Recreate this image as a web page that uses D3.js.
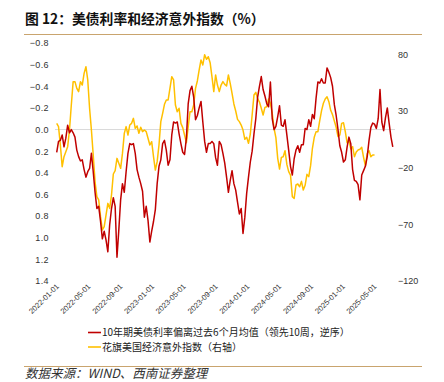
<!DOCTYPE html>
<html>
<head>
<meta charset="utf-8">
<script src="https://cdn.jsdelivr.net/npm/d3@7/dist/d3.min.js"></script>
<style>
  body { margin: 0; background: #fff; }
  svg { display: block; font-family: "Liberation Sans", Arial, sans-serif; }
  .cjk { font-family: "Noto Sans CJK SC", sans-serif; }
</style>
</head>
<body>
<div id="vis-svg"></div>
<script>
// chart data (weekly, starting 2022-01-01)
var startDate = "2022-01-01";
// 10y UST yield minus 6m average, lead 10 weeks (left axis, inverted)
var ustDeviation = [
  0.21, 0.11, 0.10, 0.05, 0.16, 0.08, -0.04, 0.03, 0.00, 0.03,
  0.07, 0.19, 0.25, 0.29, 0.28, 0.37, 0.44, 0.39, 0.36, 0.22,
  0.39, 0.58, 0.73, 0.71, 0.85, 1.01, 0.94, 1.02, 1.13, 0.88,
  0.73, 0.63, 0.71, 1.18, 0.93, 0.65, 0.50, 0.58, 0.39, 0.22,
  0.13, 0.14, 0.13, 0.22, 0.37, 0.44, 0.50, 0.57, 0.81, 0.71,
  0.84, 1.04, 0.94, 0.85, 0.74, 0.50, 0.34, 0.28, 0.13, 0.10,
  0.19, 0.33, 0.28, 0.05, -0.07, -0.06, -0.07, 0.04, 0.13, 0.21,
  0.23, 0.08, -0.24, -0.36, -0.40, -0.30, -0.09, -0.13, -0.20, -0.26,
  -0.07, 0.11, 0.21, 0.13, 0.13, 0.11, 0.13, 0.26, 0.33, 0.11,
  0.14, 0.22, 0.31, 0.44, 0.58, 0.47, 0.38, 0.50, 0.56, 0.67,
  0.78, 0.73, 0.96, 0.81, 0.59, 0.44, 0.30, 0.20, 0.04, -0.10,
  -0.30, -0.40, -0.49, -0.37, -0.31, -0.24, -0.21, -0.44, -0.10, 0.00,
  -0.03, -0.12, -0.22, -0.04, -0.03, -0.09, 0.05, 0.19, 0.34, 0.42,
  0.27, 0.19, 0.15, 0.21, 0.14, 0.14, -0.01, 0.00, -0.09, -0.03,
  -0.14, -0.10, -0.29, -0.44, -0.43, -0.47, -0.43, -0.43, -0.57, -0.53,
  -0.48, -0.40, -0.23, -0.13, 0.00, 0.15, 0.21, 0.30, 0.28, 0.16,
  0.07, 0.13, 0.37, 0.47, 0.48, 0.51, 0.65, 0.42, 0.38, 0.34,
  0.25, 0.10, -0.02, -0.06, -0.05, -0.01, -0.10, -0.37, -0.07, 0.01,
  -0.11, -0.20, -0.06, 0.07, 0.16
];
// Citi US economic surprise index (right axis)
var citiSurprise = [
  19.1, 16.2, 0.0, -19.1, -10.3, -5.9, -1.5, 13.2, 35.3, 55.9,
  55.9, 50.0, 47.1, 55.9, 52.9, 63.2, 69.1, 57.4, 32.4, 13.2,
  -8.8, -32.4, -45.6, -48.5, -63.2, -75.0, -72.1, -61.8, -51.5, -55.9,
  -44.1, -25.6, -22.6, -11.8, -16.2, -20.6, -7.4, 10.3, 16.2, 8.8,
  17.6, 19.1, 23.5, 14.7, 16.8, 10.3, 15.6, 11.8, 13.2, 11.8,
  5.9, 0.0, 2.9, -10.3, -22.1, -14.7, 0.0, 20.6, 27.9, 35.9,
  39.7, 39.7, 50.0, 60.3, 57.4, 35.3, 29.4, 32.4, 19.1, 15.3,
  8.8, 2.1, 16.2, 29.4, 29.4, 35.3, 50.0, 56.5, 66.2, 75.0,
  70.6, 79.7, 75.6, 77.9, 72.6, 60.3, 47.1, 61.8, 52.9, 47.1,
  52.9, 55.9, 53.5, 52.1, 61.8, 54.4, 45.6, 36.2, 30.0, 22.6,
  20.6, 17.6, 13.2, 5.0, 6.8, 1.5, 9.7, 26.5, 44.1, 46.5,
  40.9, 37.9, 32.4, 26.5, 33.2, 33.8, 40.6, 36.8, 27.9, 14.7,
  6.5, -11.8, -21.2, -10.9, -10.3, -5.0, -17.1, -23.5, -26.5, -45.6,
  -47.1, -35.3, -34.4, -36.8, -32.1, -39.7, -35.6, -25.9, -27.9, -18.2,
  -2.9, 6.8, 11.8, 11.8, 21.5, 30.3, 36.8, 40.6, 42.6, 38.2,
  30.6, 26.8, 21.2, 15.6, 7.4, 8.8, 19.1, 19.7, 11.8, 1.8,
  4.1, -3.5, -1.5, -10.3, -6.2, -4.4, -3.8, -2.1, -10.9, -18.5,
  -7.6, -5.0, -10.3, -8.8, -8.8
];
var leftTicks = [-0.8, -0.6, -0.4, -0.2, 0.0, 0.2, 0.4, 0.6, 0.8, 1.0, 1.2, 1.4];
var rightTicks = [80, 30, -20, -70, -120];
var dateTicks = ["2022-01-01", "2022-05-01", "2022-09-01", "2023-01-01", "2023-05-01", "2023-09-01",
  "2024-01-01", "2024-05-01", "2024-09-01", "2025-01-01", "2025-05-01"];
var legendNames = ["10年期美债利率偏离过去6个月均值（领先10周，逆序）", "花旗美国经济意外指数（右轴）"];
var colors = ["#C00000", "#FFC000"];

var width = 444, height = 382,
  plotTop = 43, plotBottom = 281, plotLeft = 55, plotRight = 395;

var parse = d3.timeParse("%Y-%m-%d");

var svg = d3.select("#vis-svg").append("svg")
  .attr("width", width)
  .attr("height", height);

// title + rules
svg.append("text").attr("class", "cjk")
  .attr("x", 25).attr("y", 23.5)
  .style("font-size", "13.8px").style("font-weight", "bold").style("fill", "#111")
  .text("图 12：美债利率和经济意外指数（%）");
svg.append("line").attr("x1", 24).attr("x2", 422).attr("y1", 34.5).attr("y2", 34.5)
  .style("stroke", "#C9A46E").style("stroke-width", 1.2);
svg.append("line").attr("x1", 24).attr("x2", 422).attr("y1", 366.5).attr("y2", 366.5)
  .style("stroke", "#C9A46E").style("stroke-width", 1.2);

// scales
var x = d3.scaleTime()
  .domain([parse("2022-01-01"), parse("2025-05-01")])
  .range([56.7, 374]);
var yL = d3.scaleLinear().domain([-0.8, 1.4]).range([plotTop, plotBottom]);
var yR = d3.scaleLinear().domain([90, -120]).range([plotTop, plotBottom]);

var start = parse(startDate);
function weekDate(i) { return d3.timeDay.offset(start, 7 * i); }

// zero gridline
svg.append("line")
  .attr("x1", plotLeft).attr("x2", plotRight)
  .attr("y1", yL(0)).attr("y2", yL(0))
  .style("stroke", "#D9D9D9").style("stroke-width", 1);

// left axis
var axL = svg.append("g")
  .attr("transform", "translate(" + 49 + ",0)")
  .call(d3.axisLeft(yL).tickValues(leftTicks).tickSize(0).tickPadding(0)
    .tickFormat(d3.format(".1f")));
axL.select(".domain").remove();
axL.selectAll("text").style("font-size", "9px").style("fill", "#333")
  .style("letter-spacing", "0.4px");

// right axis
var axR = svg.append("g")
  .attr("transform", "translate(" + plotRight + ",0)")
  .call(d3.axisRight(yR).tickValues(rightTicks).tickSize(0).tickPadding(3));
axR.select(".domain").remove();
axR.selectAll("text").style("font-size", "9px").style("fill", "#333");

// x labels rotated
svg.append("g").selectAll("text")
  .data(dateTicks).enter().append("text")
  .attr("transform", function(d) { return "translate(" + (x(parse(d)) + 1) + "," + 285 + ") rotate(-45)"; })
  .style("text-anchor", "end")
  .attr("dy", "0.35em")
  .style("font-size", "7.6px").style("fill", "#333")
  .text(function(d) { return d; });

// lines
var yellowLine = d3.line()
  .x(function(d, i) { return x(weekDate(i)); })
  .y(function(d) { return yR(d); });
var redLine = d3.line()
  .x(function(d, i) { return x(weekDate(i)); })
  .y(function(d) { return yL(d); });

svg.append("path").datum(citiSurprise)
  .attr("d", yellowLine)
  .style("fill", "none").style("stroke", colors[1]).style("stroke-width", 1.5)
  .style("stroke-linejoin", "round");
svg.append("path").datum(ustDeviation)
  .attr("d", redLine)
  .style("fill", "none").style("stroke", colors[0]).style("stroke-width", 1.5)
  .style("stroke-linejoin", "round");

// legend
var leg = svg.append("g").selectAll("g")
  .data(legendNames).enter().append("g")
  .attr("transform", function(d, i) { return "translate(88," + (332.5 + i * 14.5) + ")"; });
leg.append("line").attr("x1", 0).attr("x2", 13).attr("y1", 0).attr("y2", 0)
  .style("stroke", function(d, i) { return colors[i]; }).style("stroke-width", 1.6);
leg.append("text").attr("class", "cjk")
  .attr("x", 14).attr("y", 0).attr("dy", "0.35em")
  .style("font-size", "10px").style("fill", "#222")
  .text(function(d) { return d; });

// source
svg.append("text").attr("class", "cjk")
  .attr("x", 25).attr("y", 378)
  .style("font-size", "12.5px").style("font-style", "italic").style("fill", "#333")
  .text("数据来源：WIND、西南证券整理");
</script>
</body>
</html>
